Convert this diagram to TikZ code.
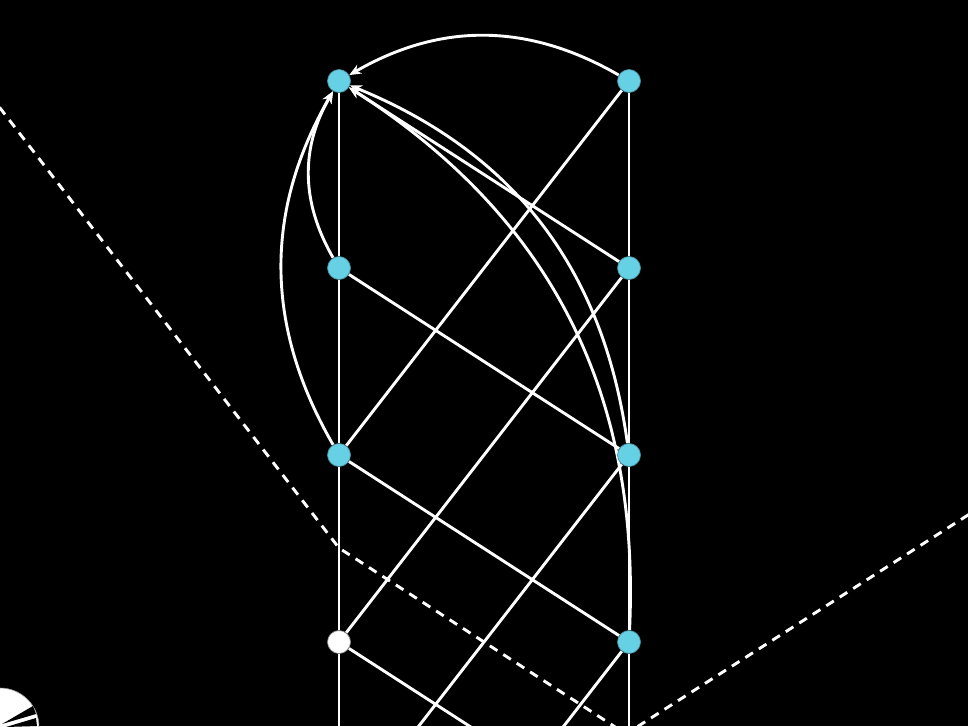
\documentclass[tikz,border=0pt]{standalone}
\usetikzlibrary{arrows.meta}
\pgfdeclarelayer{bg}
\pgfsetlayers{bg,main}
\definecolor{evc}{HTML}{66D1E4}
\definecolor{evd}{HTML}{4A8C99}
\begin{document}
\begin{tikzpicture}[x=1pt,y=-1pt,
  ev/.style={circle,minimum size=23pt,inner sep=0pt,fill=evc,draw=evd,line width=0.7pt},
  evw/.style={ev,fill=white,draw=black!45},
  wl/.style={draw=white,line width=2.9pt},
  cone/.style={draw=white,line width=2.9pt,dash pattern=on 9pt off 7pt},
  arr/.style={wl,-{Stealth[length=12pt,width=10pt,inset=4pt]}}]
\useasboundingbox (0,0) rectangle (968,726);
% events
\node[ev]  (L1) at (339,81) {};
\node[ev]  (L2) at (339,268) {};
\node[ev]  (L3) at (339,455) {};
\node[evw] (L4) at (339,642) {};
\node[ev]  (R1) at (629,81) {};
\node[ev]  (R2) at (629,268) {};
\node[ev]  (R3) at (629,455) {};
\node[ev]  (R4) at (629,642) {};
\coordinate (Lb) at (339,770);
\coordinate (Rb) at (629,770);
\coordinate (L5) at (339,829);
\coordinate (R5) at (629,829);
\coordinate (L6) at (339,1016);
\coordinate (C0) at (-20,82);
\coordinate (C1) at (339,548);
\coordinate (C2) at (626,734);
\coordinate (C3) at (1000,494.5);
\begin{pgfonlayer}{bg}
\fill[black] (0,0) rectangle (968,726);
\begin{scope}
\clip (0,0) rectangle (968,726);
\draw[cone] (C0) -- (C1) -- (C2) -- (C3);
% world lines
\draw[wl] (L1) -- (L2) (L2) -- (L3) (L3) -- (L4) (L4) -- (Lb);
\draw[wl] (R1) -- (R2) (R2) -- (R3) (R3) -- (R4) (R4) -- (Rb);
% signals
\draw[wl] (R1) -- (L3) (R2) -- (L4) (R3) -- (L5) (R4) -- (L6);
\draw[wl] (L2) -- (R3) (L3) -- (R4) (L4) -- (R5);
% arrows to the top-left event
\draw[arr] (R2) -- (L1);
\draw[arr] (R1) to[bend right=30] (L1);
\draw[arr] (L2) to[bend left=30] (L1);
\draw[arr] (L3) to[bend left=30] (L1);
\draw[arr] (R3) to[bend right=30] (L1);
\draw[arr] (R4) to[bend right=30] (L1);
% clock
\filldraw[fill=white,draw=black!40,line width=0.6pt] (0,727) circle[radius=39];
\fill[black] (2,724) -- (33,706) -- (36,714) -- cycle;
\fill[black] (6,727) -- (36,718) -- (37,726) -- cycle;
\end{scope}
\end{pgfonlayer}
\end{tikzpicture}
\end{document}
